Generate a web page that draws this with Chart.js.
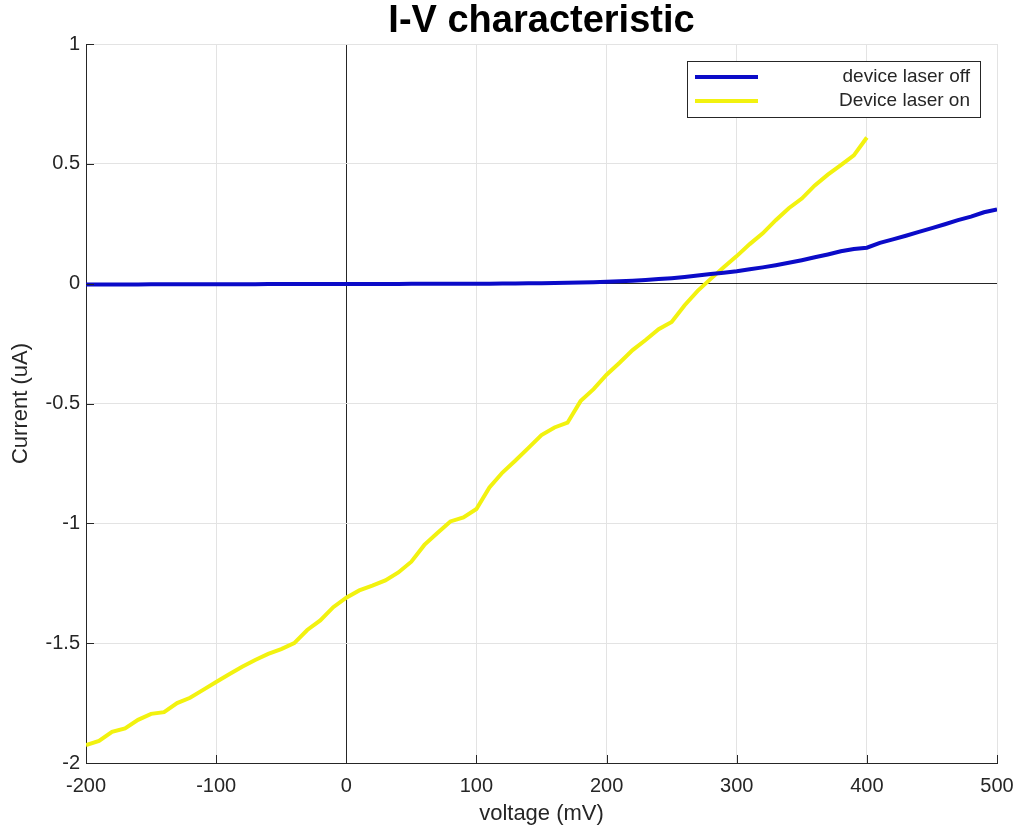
<!DOCTYPE html>
<html>
<head>
<meta charset="utf-8">
<script src="https://cdn.jsdelivr.net/npm/chart.js@4.4.1/dist/chart.umd.min.js"></script>
<style>
html,body{margin:0;padding:0;background:#fff;}
#wrap{width:1016px;height:829px;position:relative;}
</style>
</head>
<body>
<div id="wrap"><canvas id="c" width="1016" height="829"></canvas></div>
<script>
// ---- data ----
const voltage = [-200,-190,-180,-170,-160,-150,-140,-130,-120,-110,-100,-90,-80,-70,-60,-50,-40,-30,-20,-10,
  0,10,20,30,40,50,60,70,80,90,100,110,120,130,140,150,160,170,180,190,200,210,220,230,240,250,260,270,280,290,
  300,310,320,330,340,350,360,370,380,390,400,410,420,430,440,450,460,470,480,490,500];

const laserOff = [-0.003,-0.003,-0.003,-0.003,-0.003,-0.002,-0.002,-0.002,-0.002,-0.002,-0.002,-0.002,-0.002,-0.002,-0.001,-0.001,-0.001,-0.001,-0.001,-0.001,
  -0.001,-0.001,-0.001,-0.001,-0.001,0.000,0.000,0.000,0.000,0.000,0.000,0.000,0.001,0.001,0.002,0.002,0.003,0.004,0.005,0.006,0.008,0.010,0.012,0.015,0.019,0.023,0.028,0.034,0.040,0.046,
  0.052,0.060,0.068,0.077,0.087,0.098,0.110,0.122,0.135,0.145,0.150,0.170,0.185,0.200,0.216,0.232,0.248,0.265,0.280,0.298,0.310];

const voltageOn = [-200,-190,-180,-170,-160,-150,-140,-130,-120,-110,-100,-90,-80,-70,-60,-50,-40,-30,-20,-10,
  0,10,20,30,40,50,60,70,80,90,100,110,120,130,140,150,160,170,180,190,200,210,220,230,240,250,260,270,280,290,
  300,310,320,330,340,350,360,370,380,390,400];

const laserOn = [-1.925,-1.908,-1.870,-1.856,-1.820,-1.795,-1.788,-1.750,-1.728,-1.695,-1.662,-1.630,-1.598,-1.570,-1.545,-1.525,-1.500,-1.445,-1.405,-1.350,
  -1.310,-1.280,-1.260,-1.238,-1.205,-1.160,-1.090,-1.040,-0.992,-0.975,-0.940,-0.850,-0.788,-0.738,-0.685,-0.632,-0.600,-0.580,-0.490,-0.440,
  -0.380,-0.330,-0.277,-0.235,-0.190,-0.160,-0.090,-0.030,0.020,0.068,
  0.115,0.165,0.210,0.265,0.315,0.355,0.410,0.455,0.495,0.535,0.610];

const xTicks = [-200,-100,0,100,200,300,400,500];
const xTickLabels = ['-200','-100','0','100','200','300','400','500'];
const yTicks = [-2,-1.5,-1,-0.5,0,0.5,1];
const yTickLabels = ['-2','-1.5','-1','-0.5','0','0.5','1'];

const seriesLabels = ['device laser off','Device laser on'];
const seriesColors = ['#0b0bc8','#f2f20f'];

// ---- chart ----
const FONT = '"Liberation Sans", Arial, Helvetica, sans-serif';
const TXT = '#262626';

const innerTicks = {
  id: 'innerTicks',
  afterDatasetsDraw(chart) {
    const {ctx, chartArea: a, scales: {x, y}} = chart;
    ctx.save();
    ctx.strokeStyle = TXT;
    ctx.lineWidth = 1;
    ctx.beginPath();
    xTicks.forEach(v => {
      const px = Math.round(x.getPixelForValue(v)) + 0.5;
      ctx.moveTo(px, a.bottom); ctx.lineTo(px, a.bottom - 8);
    });
    yTicks.forEach(v => {
      const py = Math.round(y.getPixelForValue(v)) + 0.5;
      ctx.moveTo(a.left, py); ctx.lineTo(a.left + 8, py);
    });
    ctx.stroke();
    ctx.restore();
  }
};

const boxLegend = {
  id: 'boxLegend',
  afterDraw(chart) {
    const {ctx} = chart;
    const L = 687, T = 61, R = 980, B = 117;
    ctx.save();
    ctx.fillStyle = '#ffffff';
    ctx.fillRect(L, T, R - L, B - T);
    ctx.strokeStyle = TXT;
    ctx.lineWidth = 1;
    ctx.strokeRect(L + 0.5, T + 0.5, R - L, B - T);
    const rows = [77, 101];
    ctx.font = '19px ' + FONT;
    ctx.textAlign = 'right';
    ctx.textBaseline = 'middle';
    chart.data.datasets.forEach((ds, i) => {
      ctx.strokeStyle = ds.borderColor;
      ctx.lineWidth = 4;
      ctx.beginPath();
      ctx.moveTo(695, rows[i]); ctx.lineTo(758, rows[i]);
      ctx.stroke();
      ctx.fillStyle = TXT;
      ctx.fillText(ds.label, 970, rows[i]);
    });
    ctx.restore();
  }
};

const gridColor = c => (c.tick && c.tick.value === 0) ? 'rgba(0,0,0,0.85)' : '#e3e3e3';

new Chart(document.getElementById('c'), {
  type: 'line',
  data: {
    datasets: [
      { label: seriesLabels[0], data: voltage.map((v, i) => ({x: v, y: laserOff[i]})),
        borderColor: seriesColors[0], borderWidth: 4, pointRadius: 0, tension: 0, fill: false },
      { label: seriesLabels[1], data: voltageOn.map((v, i) => ({x: v, y: laserOn[i]})),
        borderColor: seriesColors[1], borderWidth: 4, pointRadius: 0, tension: 0, fill: false }
    ]
  },
  options: {
    responsive: false,
    animation: false,
    devicePixelRatio: 1,
    layout: { padding: { left: 0, right: 19, top: 0, bottom: 0 } },
    plugins: {
      legend: { display: false },
      tooltip: { enabled: false },
      title: {
        display: true,
        fullSize: false,
        text: 'I-V characteristic',
        color: '#000',
        font: { family: FONT, size: 38, weight: 'bold', lineHeight: 1.0 },
        padding: { top: 3, bottom: 3 }
      }
    },
    scales: {
      x: {
        type: 'linear',
        min: -200, max: 500,
        afterBuildTicks: s => { s.ticks = xTicks.map(v => ({value: v})); },
        afterFit: s => { s.height = 66; s.paddingLeft = 0; s.paddingRight = 0; },
        grid: { color: gridColor, lineWidth: 1, drawTicks: false },
        border: { color: TXT, width: 1 },
        ticks: { color: TXT, font: { family: FONT, size: 20 }, padding: 11, maxRotation: 0,
          callback: (v) => xTickLabels[xTicks.indexOf(v)] },
        title: { display: true, text: 'voltage (mV)', color: TXT,
          font: { family: FONT, size: 22 }, padding: { top: 0, bottom: 2 } }
      },
      y: {
        type: 'linear',
        min: -2, max: 1,
        afterBuildTicks: s => { s.ticks = yTicks.map(v => ({value: v})); },
        afterFit: s => { s.width = 86; },
        grid: { color: gridColor, lineWidth: 1, drawTicks: false },
        border: { color: TXT, width: 1 },
        ticks: { color: TXT, font: { family: FONT, size: 20 }, padding: 6,
          callback: (v) => yTickLabels[yTicks.indexOf(v)] },
        title: { display: true, text: 'Current (uA)', color: TXT,
          font: { family: FONT, size: 22 }, padding: { top: 8, bottom: 0 } }
      }
    }
  },
  plugins: [innerTicks, boxLegend]
});
</script>
</body>
</html>
